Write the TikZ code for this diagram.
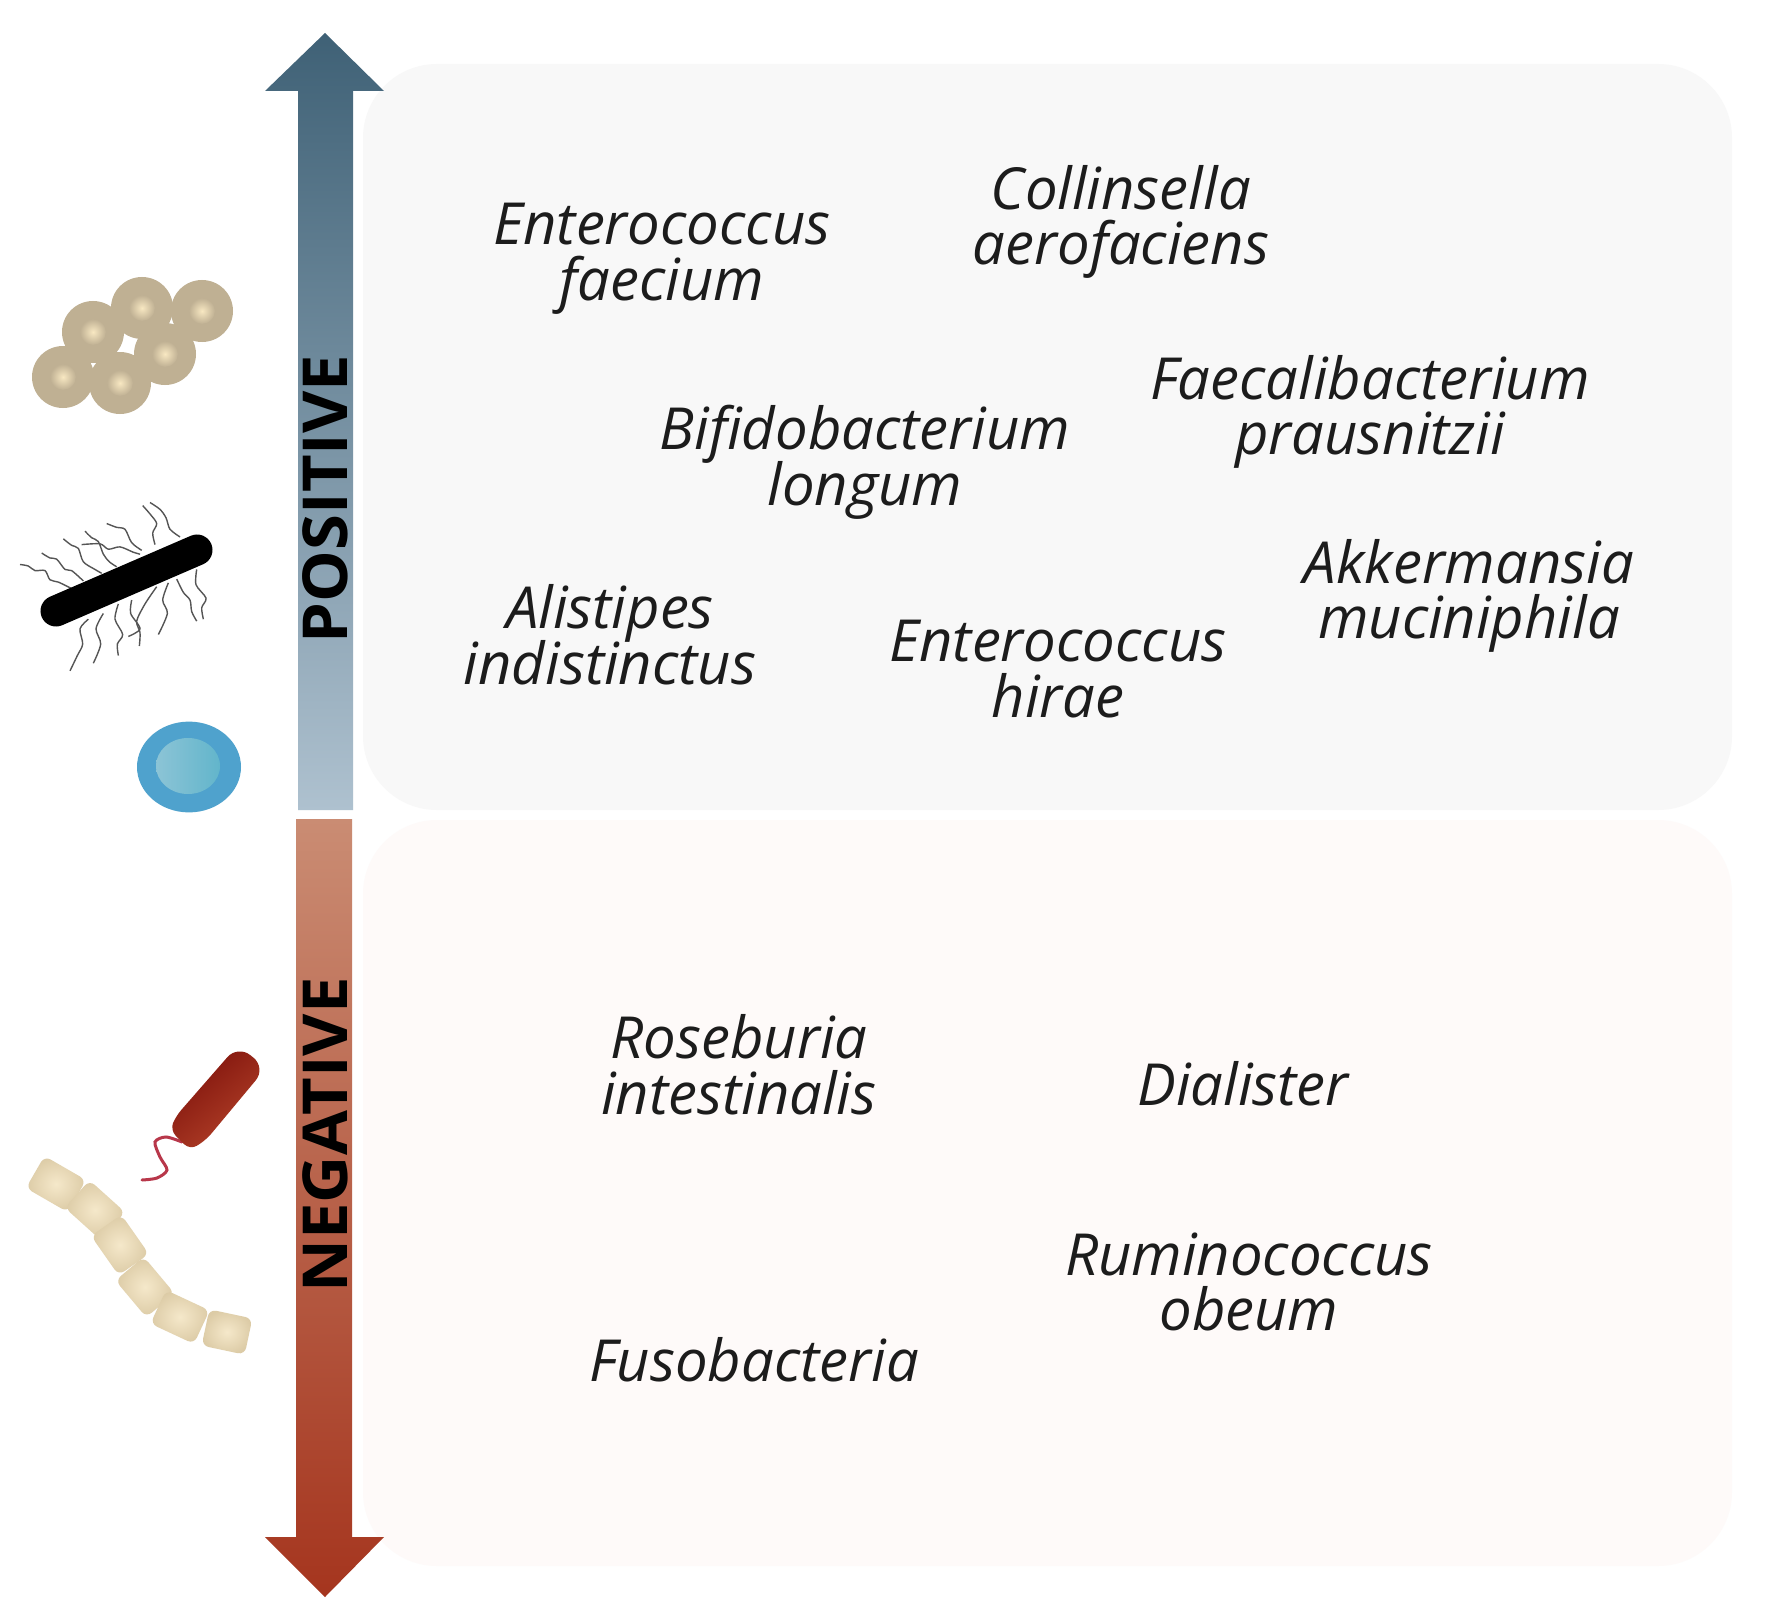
\documentclass[tikz,border=0pt]{standalone}
\usepackage{fontspec}
\setmainfont{Open Sans}
\definecolor{txt}{HTML}{1C1C1C}
\definecolor{panelpos}{HTML}{F8F8F8}
\definecolor{panelneg}{HTML}{FEFAF9}
\definecolor{coccus}{HTML}{BFB093}
\definecolor{coccusin}{HTML}{F8E8C2}
\definecolor{hair}{HTML}{555555}
\definecolor{bluetop}{HTML}{3F6176}
\definecolor{bluebot}{HTML}{AEC1CF}
\definecolor{redtop}{HTML}{CA8C73}
\definecolor{redbot}{HTML}{A5351E}
\definecolor{cellblue}{HTML}{4FA2CD}
\definecolor{cellin}{HTML}{8CC4D6}
\definecolor{cellinb}{HTML}{62B5CB}
\definecolor{flag}{HTML}{B8374A}
\definecolor{roddark}{HTML}{7C100A}
\definecolor{rodlight}{HTML}{B5432A}
\definecolor{cream}{HTML}{F5E8CA}
\definecolor{creamedge}{HTML}{DCCBA6}
\newcommand{\speciesfont}{\fontsize{29}{27.8}\selectfont\setlength{\lineskiplimit}{-20pt}\itshape}
\tikzset{
  x=0.5pt,y=-0.5pt,
  species/.style={font=\speciesfont,text=txt,align=center,inner sep=0pt},
  axislabel/.style={font=\fontsize{31}{31}\selectfont\bfseries,text=black,rotate=90,inner sep=0pt},
  panel/.style={rounded corners=37pt},
  hairline/.style={hair,line width=0.7pt},
  cell/.style={rounded corners=3.5pt,inner color=cream,outer color=creamedge,minimum height=18.5pt,inner sep=0pt},
}
\newcommand{\coccuscell}[2]{%
  \fill[coccus] (#1,#2) circle (15.5pt);
  \shade[inner color=coccusin,outer color=coccus] (#1,#2) circle (6.5pt);
}
\newcommand{\hairpath}[1]{\draw[hairline,yshift=-125pt,x=0.1667pt,y=-0.1913pt] plot[smooth] coordinates {#1};}
\begin{document}
\begin{tikzpicture}
\useasboundingbox (0,0) rectangle (1767,1621);
\fill[white] (0,0) rectangle (1767,1621);
% panels
\fill[panelpos,panel] (363,64) rectangle (1732,810);
\fill[panelneg,panel] (363,820) rectangle (1732,1566);
% axis arrows
\shade[top color=bluetop,bottom color=bluebot]
  (325,33)--(384,91)--(353,91)--(353,810)--(298,810)--(298,91)--(265,91)--cycle;
\shade[top color=redtop,bottom color=redbot]
  (296,819)--(352,819)--(352,1537)--(384,1537)--(325,1597)--(265,1537)--(296,1537)--cycle;
\node[axislabel] (pos) at (325,499) {\scalebox{1.05}[1]{POSITIVE}};
\node[axislabel] (neg) at (325,1135) {\scalebox{1.05}[1]{NEGATIVE}};
% species
\node[species] (efaecium) at (662,259) {Enterococcus\\faecium};
\node[species] (caero) at (1121,222) {Collinsella\\aerofaciens};
\node[species] (fprau) at (1370,412) {Faecalibacterium\\prausnitzii};
\node[species] (blong) at (865,462) {Bifidobacterium\\longum};
\node[species] (amuc) at (1469,596) {Akkermansia\\muciniphila};
\node[species] (aind) at (610,635) {Alistipes\\indistinctus};
\node[species] (ehirae) at (1058,669) {Enterococcus\\hirae};
\node[species] (rint) at (739,1065) {Roseburia\\intestinalis};
\node[species] (dial) at (1243,1084) {Dialister};
\node[species] (robe) at (1249,1282) {Ruminococcus\\obeum};
\node[species] (fuso) at (754,1360) {Fusobacteria};
% cocci cluster
\coccuscell{202}{311}
\coccuscell{142}{308}
\coccuscell{93}{332}
\coccuscell{165}{354}
\coccuscell{63}{377}
\coccuscell{120}{383}
% hairy rod
\hairpath{(60,822)(85,826)(105,838)(135,838)(150,862)(175,868)(215,885)}
\hairpath{(125,792)(150,805)(170,808)(195,835)(215,838)(250,865)}
\hairpath{(190,755)(215,772)(235,780)(250,815)(285,835)(305,845)}
\hairpath{(255,735)(275,752)(295,762)(310,795)(328,815)(350,828)}
\hairpath{(245,770)(300,768)(325,782)(360,776)(400,790)(420,795)}
\hairpath{(320,715)(350,725)(375,730)(395,765)(425,785)}
\hairpath{(428,668)(450,690)(470,715)(458,740)(465,770)}
\hairpath{(450,660)(480,678)(498,700)(510,730)(540,750)}
\hairpath{(265,965)(240,990)(248,1030)(232,1060)(210,1100)}
\hairpath{(310,950)(288,990)(302,1030)(280,1080)}
\hairpath{(355,925)(345,965)(368,1005)(352,1030)(355,1060)}
\hairpath{(395,915)(392,950)(420,990)(385,1010)}
\hairpath{(470,880)(435,925)(410,970)(420,1000)(418,1035)}
\hairpath{(505,870)(488,915)(502,950)(475,1005)}
\hairpath{(530,860)(550,895)(570,915)(575,945)(590,970)}
\hairpath{(590,835)(588,875)(618,910)(605,935)(610,965)}
\draw[black,line width=15.5pt,line cap=round] (56,611)--(197,550);
% blue coccus
\fill[cellblue] (189,767) ellipse (26pt and 22.7pt);
\shade[left color=cellin,right color=cellinb] (188,766) ellipse (16pt and 14pt);
% red rod with flagellum
\draw[flag,line width=1.5pt,line cap=round] plot[smooth] coordinates
  {(182,1142)(166,1137)(155,1142)(160,1157)(167,1170)(157,1178)(142,1180)};
\shade[top color=roddark,bottom color=rodlight,shading angle=40,rounded corners=4pt]
  (176,1116) [rounded corners=8pt] -- (238,1045) -- (266,1068)
  [rounded corners=4pt] -- (206,1140) -- (190,1150) -- (170,1130) -- cycle;
% chain
\node[cell,minimum width=24pt,rotate=-30] (c1) at (56,1184) {};
\node[cell,minimum width=24pt,rotate=-42] (c2) at (95,1210) {};
\node[cell,minimum width=24pt,rotate=-55] (c3) at (120,1245) {};
\node[cell,minimum width=24pt,rotate=-50] (c4) at (145,1287) {};
\node[cell,minimum width=24pt,rotate=-25] (c5) at (180,1317) {};
\node[cell,minimum width=22pt,rotate=-12] (c6) at (227,1332) {};
\end{tikzpicture}
\end{document}
